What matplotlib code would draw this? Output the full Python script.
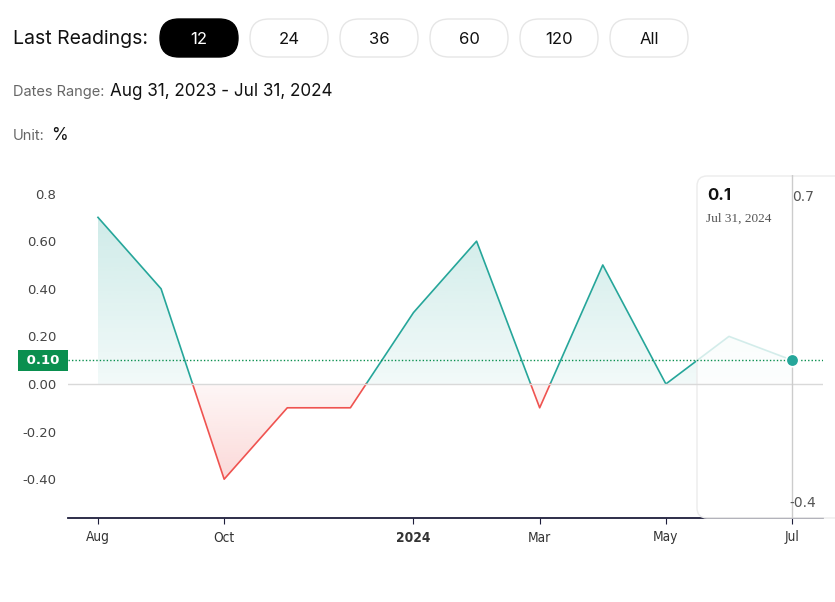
import numpy as np
import matplotlib
matplotlib.use('Agg')
import matplotlib.pyplot as plt
import matplotlib.transforms as mtransforms
from matplotlib.patches import FancyBboxPatch
from matplotlib.path import Path

# data (monthly readings, %)
months = ['Aug', 'Sep', 'Oct', 'Nov', 'Dec', 'Jan', 'Feb', 'Mar', 'Apr', 'May', 'Jun', 'Jul']
values = np.array([0.7, 0.4, -0.4, -0.1, -0.1, 0.3, 0.6, -0.1, 0.5, 0.0, 0.2, 0.1])
tick_idx = [0, 2, 5, 7, 9, 11]
tick_labels = ['Aug', 'Oct', '2024', 'Mar', 'May', 'Jul']
ytick_vals = [-0.4, -0.2, 0.0, 0.2, 0.4, 0.6, 0.8]
ytick_labels = ['-0.40', '-0.20', '0.00', '0.20', '0.40', '0.60', '0.8']
buttons = ['12', '24', '36', '60', '120', 'All']
date_range = 'Aug 31, 2023 - Jul 31, 2024'
last_date = 'Jul 31, 2024'

TEAL = '#26a69a'
RED = '#ef5350'
GREEN = '#0a8f4f'
W, H = 835, 602

fig = plt.figure(figsize=(W / 100, H / 100), dpi=100)
px = mtransforms.Affine2D().scale(1, -1).translate(0, H)  # pixel coords, top-left origin

ax = fig.add_axes([68 / W, 84 / H, 755 / W, 343 / H])
x = np.arange(len(values))


def with_crossings(x, y):
    xs, ys = [x[0]], [y[0]]
    for i in range(1, len(x)):
        if (y[i - 1] > 0 and y[i] < 0) or (y[i - 1] < 0 and y[i] > 0):
            xc = x[i - 1] + y[i - 1] / (y[i - 1] - y[i]) * (x[i] - x[i - 1])
            xs.append(xc)
            ys.append(0.0)
        xs.append(x[i])
        ys.append(y[i])
    return np.array(xs), np.array(ys)


xd, yd = with_crossings(x.astype(float), values)


def gradient_fill(where, color, a_top, a_bottom, y_lo, y_hi):
    poly = ax.fill_between(xd, yd, 0, where=where, interpolate=True, color='none', lw=0)
    clip = Path.make_compound_path(*poly.get_paths())
    n = 256
    img = np.zeros((n, 1, 4))
    img[:, 0, :3] = matplotlib.colors.to_rgb(color)
    img[:, 0, 3] = np.linspace(a_top, a_bottom, n)
    im = ax.imshow(img, extent=(xd.min(), xd.max(), y_lo, y_hi),
                   origin='upper', aspect='auto', zorder=1)
    im.set_clip_path(clip, transform=ax.transData)


gradient_fill(yd >= 0, TEAL, 0.22, 0.06, 0, values.max())
gradient_fill(yd <= 0, RED, 0.05, 0.22, values.min(), 0)
ax.set_xlim(-0.475, 11.49)
ax.set_ylim(-0.563, 0.878)

ax.plot(xd, np.ma.masked_where(yd < 0, yd), color=TEAL, lw=1.2, zorder=2)
ax.plot(xd, np.ma.masked_where(yd > 0, yd), color=RED, lw=1.2, zorder=2)

# axes styling
for s in ['top', 'right', 'left']:
    ax.spines[s].set_visible(False)
ax.spines['bottom'].set_color('#1e1e3c')
ax.spines['bottom'].set_linewidth(1.3)
ax.set_xticks(tick_idx)
ax.set_xticklabels(tick_labels, family='DejaVu Sans', fontstretch='condensed',
                   fontsize=9.8, color='#333333')
ax.get_xticklabels()[2].set_fontweight('bold')
ax.tick_params(axis='x', length=4, color='#1e1e3c', pad=5)
ax.set_yticks(ytick_vals)
ax.set_yticklabels(ytick_labels, fontsize=9.5, color='#444444')
ax.tick_params(axis='y', length=0, pad=8.5)

ax.axhline(0, color='#d9d9d9', lw=1, zorder=4)
latest = values[-1]
ax.axhline(latest, color=GREEN, lw=1, ls=(0, (1, 1.5)), zorder=4)
blend = mtransforms.blended_transform_factory(ax.transAxes, ax.transData)
ax.text(-0.0055, latest, f' {latest:.2f} ', transform=blend, ha='right', va='center',
        fontsize=9.5, fontweight='bold', color='white',
        bbox=dict(boxstyle='square,pad=0.3', fc=GREEN, ec='none'))

# tooltip panel over the right side
tip = FancyBboxPatch((697, 176), 160, 342, boxstyle='round,pad=0,rounding_size=10',
                     transform=px, fc=(1, 1, 1, 0.8), ec='#ececec', lw=1,
                     clip_on=False, zorder=3)
ax.add_patch(tip)
ax.axvline(x[-1], color='#cccccc', lw=1, zorder=4)
ax.plot([x[-1]], [latest], 'o', ms=9, color=TEAL, mec='white', mew=1.2, zorder=6)

fig.text(707, 195, f'{latest:g}', transform=px, fontsize=12, fontweight='bold',
         color='#111111', va='center', family='Inter')
fig.text(706, 219, last_date, transform=px, fontsize=9.5, color='#555555',
         va='center', family='Liberation Serif')
fig.text(803, 197, f'{values.max():g}', transform=px, fontsize=10, color='#555555',
         va='center', ha='center')
fig.text(803, 503, f'{values.min():g}', transform=px, fontsize=10, color='#555555',
         va='center', ha='center')

# header
fig.text(13, 39, 'Last Readings:', transform=px, fontsize=14, color='#111111',
         va='center', family='Inter')
for i, b in enumerate(buttons):
    x0 = 160 + i * 90
    active = i == 0
    pill = FancyBboxPatch((x0, 19), 78, 38, boxstyle='round,pad=0,rounding_size=19',
                          transform=px, fc='black' if active else 'white',
                          ec='black' if active else '#e6e6e6', lw=1)
    fig.add_artist(pill)
    fig.text(x0 + 39, 39, b, transform=px, fontsize=12, ha='center', va='center',
             color='white' if active else '#111111', family='Inter')

fig.text(13, 92, 'Dates Range:', transform=px, fontsize=10.5, color='#666666',
         va='center', family='Inter')
fig.text(110, 92, date_range, transform=px, fontsize=12.3, color='#111111',
         va='center', family='Inter')
fig.text(13, 136, 'Unit:', transform=px, fontsize=10.5, color='#666666',
         va='center', family='Inter')
fig.text(51, 135, '%', transform=px, fontsize=12.3, color='#111111',
         va='center', family='Inter')

fig.savefig('out.png', dpi=100)
